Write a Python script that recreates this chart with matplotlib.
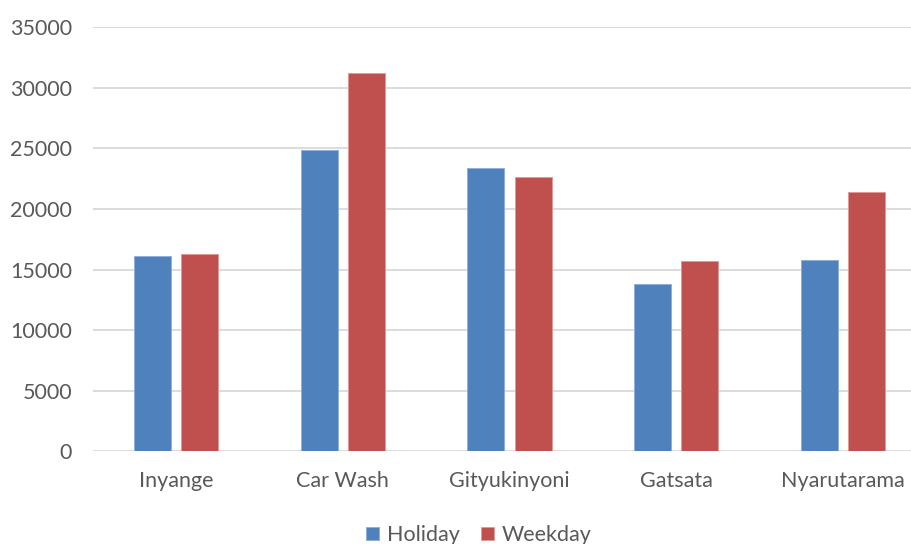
import matplotlib
matplotlib.use("Agg")
import matplotlib.pyplot as plt
import numpy as np

categories = ["Inyange", "Car Wash", "Gityukinyoni", "Gatsata", "Nyarutarama"]
holiday = [16150, 24900, 23400, 13800, 15800]
weekday = [16300, 31250, 22650, 15700, 21400]
series_names = ["Holiday", "Weekday"]
yticks = [0, 5000, 10000, 15000, 20000, 25000, 30000, 35000]

plt.rcParams["font.family"] = ["Lato", "DejaVu Sans"]

fig = plt.figure(figsize=(9.12, 5.44), dpi=100)
ax = fig.add_axes([93 / 912, 1 - 451.3 / 544, 833 / 912, (451.3 - 27.3) / 544])

x = np.arange(len(categories))
width = 0.222
offset = 0.142
blue = "#4F81BD"
red = "#C0504D"
ax.bar(x - offset, holiday, width, color=blue, edgecolor="#8FB0DA", linewidth=0.7,
       label=series_names[0], zorder=3)
ax.bar(x + offset, weekday, width, color=red, edgecolor="#E09A98", linewidth=0.7,
       label=series_names[1], zorder=3)

ax.set_xlim(-0.5, len(categories) - 0.5)
ax.set_ylim(0, 35000)
ax.set_yticks(yticks)
ax.set_yticklabels([str(v) for v in yticks])
ax.set_xticks(x)
ax.set_xticklabels(categories)

for s in ax.spines.values():
    s.set_visible(False)
ax.yaxis.grid(True, color="#D9D9D9", linewidth=1.3, zorder=0)
ax.set_axisbelow(True)
ax.tick_params(axis="both", length=0, labelsize=15.5, colors="#595959")
ax.tick_params(axis="y", pad=15)
ax.tick_params(axis="x", pad=14)

fig.legend(loc="center", bbox_to_anchor=(0.525, 0.0165), ncol=2, frameon=False,
           fontsize=15.5, handlelength=0.6, handleheight=0.6, handletextpad=0.35,
           columnspacing=1.0, labelcolor="#595959")

fig.savefig("out.png", dpi=100)
